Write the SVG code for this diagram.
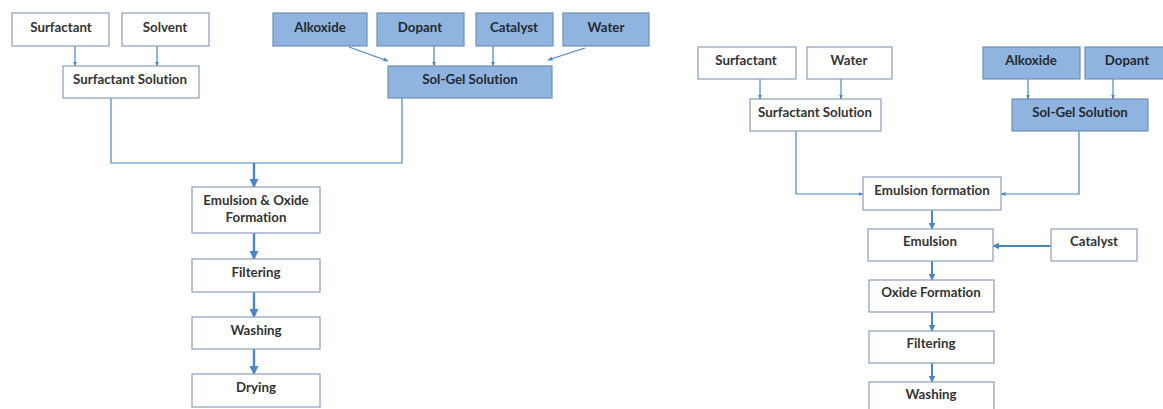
<svg xmlns="http://www.w3.org/2000/svg" width="1163" height="409" viewBox="0 0 1163 409">
<defs>
<marker id="ah" viewBox="0 0 10 10" refX="9" refY="5" markerWidth="5" markerHeight="5" orient="auto" markerUnits="userSpaceOnUse"><path d="M0,1 L10,5 L0,9 z" fill="#4a86c5"/></marker>
<marker id="ahb" viewBox="0 0 10 10" refX="9" refY="5" markerWidth="9" markerHeight="9" orient="auto" markerUnits="userSpaceOnUse"><path d="M0,0 L10,5 L0,10 z" fill="#4a86c5"/></marker>
<marker id="ahm" viewBox="0 0 10 10" refX="9" refY="5" markerWidth="7" markerHeight="7" orient="auto" markerUnits="userSpaceOnUse"><path d="M0,0 L10,5 L0,10 z" fill="#4a86c5"/></marker>
</defs>
<style>
.w{fill:#ffffff;stroke:#8a9fbd;stroke-width:1.2}
.b{fill:#8fb4df;stroke:#6f8fb8;stroke-width:1.2}
text{font-family:Lato,"Open Sans","Liberation Sans",sans-serif;font-weight:bold;font-size:13.3px;fill:#333333;text-anchor:middle;font-variant-ligatures:none}
.b + text{fill:#262a30}
.c{fill:none;stroke:#4a86c5;stroke-width:1.2}
.t{marker-end:url(#ah)}
.k{stroke-width:2.4;marker-end:url(#ahb)}
.m{stroke-width:2;marker-end:url(#ahm)}
</style>
<rect width="1163" height="409" fill="#ffffff"/>
<g id="connectors">
<line class="c t" x1="75" y1="46" x2="75" y2="66"/>
<line class="c t" x1="157" y1="46" x2="157" y2="66"/>
<line class="c t" x1="349" y1="47" x2="388" y2="61"/>
<line class="c t" x1="434" y1="46" x2="434" y2="66"/>
<line class="c t" x1="493" y1="46" x2="493" y2="66"/>
<line class="c t" x1="585" y1="48" x2="548" y2="60"/>
<polyline class="c" stroke-width="1.8" points="111,98 111,163 402,163 402,98"/>
<line class="c k" x1="254" y1="163" x2="254" y2="187"/>
<line class="c k" x1="254" y1="233" x2="254" y2="259"/>
<line class="c k" x1="254" y1="292" x2="254" y2="317"/>
<line class="c k" x1="254" y1="349" x2="254" y2="374"/>
<line class="c t" x1="760" y1="79" x2="760" y2="99"/>
<line class="c t" x1="841" y1="79" x2="841" y2="99"/>
<line class="c t" x1="1028" y1="79" x2="1028" y2="99"/>
<line class="c t" x1="1113" y1="79" x2="1113" y2="99"/>
<polyline class="c t" points="796,131 796,194 863,194"/>
<polyline class="c t" points="1079,131 1079,194 1001,194"/>
<line class="c m" x1="932" y1="210" x2="932" y2="229"/>
<line class="c m" x1="1051" y1="246" x2="993" y2="246"/>
<line class="c m" x1="932" y1="261" x2="932" y2="280"/>
<line class="c m" x1="932" y1="312" x2="932" y2="331"/>
<line class="c m" x1="932" y1="363" x2="932" y2="382"/>
</g>
<g id="l-surfactant"><rect class="w" x="12" y="13" width="97" height="33"/><text x="61" y="31.5">Surfactant</text></g>
<g id="l-solvent"><rect class="w" x="122" y="13" width="87" height="33"/><text x="165" y="31.5">Solvent</text></g>
<g id="l-alkoxide"><rect class="b" x="273" y="13" width="94" height="33"/><text x="320" y="31.5">Alkoxide</text></g>
<g id="l-dopant"><rect class="b" x="377" y="13" width="87" height="33"/><text x="420" y="31.5">Dopant</text></g>
<g id="l-catalyst"><rect class="b" x="476" y="13" width="77" height="33"/><text x="514" y="31.5">Catalyst</text></g>
<g id="l-water"><rect class="b" x="563" y="13" width="86" height="33"/><text x="606" y="31.5">Water</text></g>
<g id="l-surfsol"><rect class="w" x="63" y="66" width="136" height="32"/><text x="130" y="84">Surfactant Solution</text></g>
<g id="l-solgel"><rect class="b" x="388" y="66" width="164" height="32"/><text x="470" y="84">Sol-Gel Solution</text></g>
<g id="l-emulsion"><rect class="w" x="192" y="187" width="128" height="46"/><text x="256" y="205">Emulsion &amp; Oxide</text><text x="256" y="222">Formation</text></g>
<g id="l-filtering"><rect class="w" x="192" y="259" width="128" height="33"/><text x="256" y="277">Filtering</text></g>
<g id="l-washing"><rect class="w" x="192" y="317" width="128" height="32"/><text x="256" y="335">Washing</text></g>
<g id="l-drying"><rect class="w" x="192" y="374" width="128" height="33"/><text x="256" y="392">Drying</text></g>
<g id="r-surfactant"><rect class="w" x="698" y="47" width="98" height="32"/><text x="746" y="64.5">Surfactant</text></g>
<g id="r-water"><rect class="w" x="807" y="47" width="85" height="32"/><text x="849" y="64.5">Water</text></g>
<g id="r-alkoxide"><rect class="b" x="983" y="47" width="97" height="32"/><text x="1031" y="64.5">Alkoxide</text></g>
<g id="r-dopant"><rect class="b" x="1085" y="47" width="84" height="32"/><text x="1127" y="64.5">Dopant</text></g>
<g id="r-surfsol"><rect class="w" x="750" y="99" width="131" height="32"/><text x="815" y="116.5">Surfactant Solution</text></g>
<g id="r-solgel"><rect class="b" x="1012" y="99" width="136" height="32"/><text x="1080" y="116.5">Sol-Gel Solution</text></g>
<g id="r-emulform"><rect class="w" x="863" y="177" width="138" height="33"/><text x="932" y="195">Emulsion formation</text></g>
<g id="r-emulsion"><rect class="w" x="868" y="229" width="125" height="32"/><text x="930" y="246">Emulsion</text></g>
<g id="r-catalyst"><rect class="w" x="1051" y="229" width="86" height="32"/><text x="1094" y="246">Catalyst</text></g>
<g id="r-oxide"><rect class="w" x="869" y="280" width="125" height="32"/><text x="931" y="297">Oxide Formation</text></g>
<g id="r-filtering"><rect class="w" x="869" y="331" width="125" height="32"/><text x="931" y="348">Filtering</text></g>
<g id="r-washing"><rect class="w" x="869" y="382" width="125" height="32"/><text x="931" y="399">Washing</text></g>
</svg>
